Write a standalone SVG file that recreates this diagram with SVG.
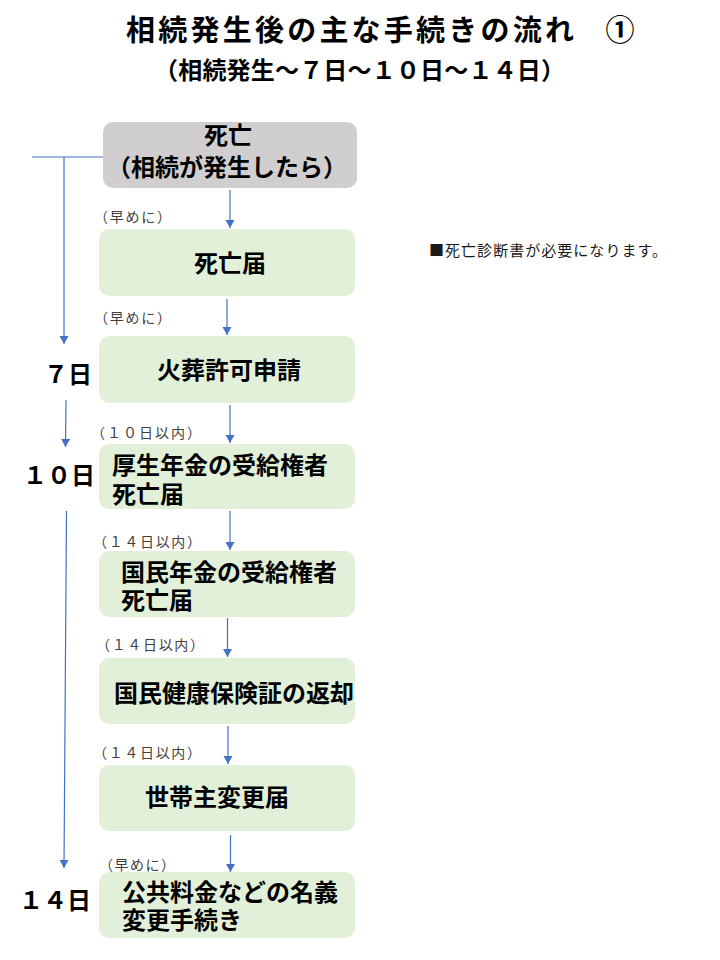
<svg xmlns="http://www.w3.org/2000/svg" width="720" height="960" viewBox="0 0 720 960">
<defs>
<style>
text{font-family:"Noto Sans CJK JP","Noto Sans CJK SC",sans-serif;fill:#000}
.t{font-weight:bold;font-size:29px}
.st{font-weight:bold;font-size:24px}
.b{font-weight:bold;font-size:24px}
.d{font-weight:bold;font-size:24px}
.s{font-size:14px;fill:#404040}
.n{font-size:15px;fill:#1a1a1a}
.gray{fill:#d0cece}
.green{fill:#e2f0d9}
.c{stroke:#4472c4;stroke-width:1.2;fill:none}
</style>
<marker id="ah" markerUnits="userSpaceOnUse" markerWidth="10" markerHeight="10" refX="8" refY="4.5" orient="auto">
<path d="M0,0 L8,4.5 L0,9 Z" fill="#4472c4"/>
</marker>
</defs>
<rect width="720" height="960" fill="#fff"/>
<g id="title">
<text class="t" x="126" y="41" textLength="448" lengthAdjust="spacing">相続発生後の主な手続きの流れ</text>
<text class="t" x="620" y="41" text-anchor="middle">①</text>
<text class="st" x="154" y="79" textLength="411" lengthAdjust="spacing">（相続発生～７日～１０日～１４日）</text>
</g>
<g id="connectors">
<line class="c" x1="230" y1="190" x2="230" y2="228" marker-end="url(#ah)"/>
<line class="c" x1="227" y1="299" x2="227" y2="335" marker-end="url(#ah)"/>
<line class="c" x1="230" y1="405" x2="230" y2="443" marker-end="url(#ah)"/>
<line class="c" x1="230" y1="511" x2="230" y2="550" marker-end="url(#ah)"/>
<line class="c" x1="227.5" y1="618" x2="227.5" y2="657" marker-end="url(#ah)"/>
<line class="c" x1="228" y1="726" x2="228" y2="764" marker-end="url(#ah)"/>
<line class="c" x1="230.5" y1="835" x2="230.5" y2="872" marker-end="url(#ah)"/>
<polyline class="c" points="103,157 32,157"/>
<line class="c" x1="64" y1="157" x2="64" y2="344" marker-end="url(#ah)"/>
<line class="c" x1="66" y1="400" x2="65.5" y2="447" marker-end="url(#ah)"/>
<line class="c" x1="66.5" y1="511" x2="64" y2="868" marker-end="url(#ah)"/>
</g>
<g id="day-labels">
<text class="d" x="92" y="383" text-anchor="end">７日</text>
<text class="d" x="95" y="484" text-anchor="end">１０日</text>
<text class="d" x="91" y="909" text-anchor="end">１４日</text>
</g>
<g id="node-death">
<rect class="gray" x="103" y="122" width="254" height="66" rx="10"/>
<text class="b" text-anchor="middle"><tspan x="228" y="144">死亡</tspan><tspan x="227" y="176">（相続が発生したら）</tspan></text>
</g>
<g id="node-shibotodoke">
<text class="s" x="94" y="222" textLength="77" lengthAdjust="spacing">（早めに）</text>
<rect class="green" x="99" y="229" width="256" height="67" rx="10"/>
<text class="b" x="230" y="272" text-anchor="middle">死亡届</text>
</g>
<g id="note">
<text class="n" x="429" y="256" textLength="238" lengthAdjust="spacing">■死亡診断書が必要になります。</text>
</g>
<g id="node-kaso">
<text class="s" x="94" y="323" textLength="77" lengthAdjust="spacing">（早めに）</text>
<rect class="green" x="99" y="336" width="256" height="67" rx="10"/>
<text class="b" x="229" y="379" text-anchor="middle">火葬許可申請</text>
</g>
<g id="node-kosei">
<text class="s" x="91" y="438" textLength="110" lengthAdjust="spacing">（１０日以内）</text>
<rect class="green" x="99" y="444" width="256" height="65" rx="10"/>
<text class="b"><tspan x="112" y="474">厚生年金の受給権者</tspan><tspan x="112" y="503">死亡届</tspan></text>
</g>
<g id="node-kokumin">
<text class="s" x="93" y="547" textLength="108" lengthAdjust="spacing">（１４日以内）</text>
<rect class="green" x="99" y="551" width="256" height="66" rx="10"/>
<text class="b"><tspan x="121" y="581">国民年金の受給権者</tspan><tspan x="121" y="609">死亡届</tspan></text>
</g>
<g id="node-hoken">
<text class="s" x="96" y="650" textLength="108" lengthAdjust="spacing">（１４日以内）</text>
<rect class="green" x="99" y="658" width="256" height="66" rx="10"/>
<text class="b" x="114" y="702">国民健康保険証の返却</text>
</g>
<g id="node-setainushi">
<text class="s" x="93" y="758" textLength="108" lengthAdjust="spacing">（１４日以内）</text>
<rect class="green" x="99" y="765" width="256" height="66" rx="10"/>
<text class="b" x="217" y="806" text-anchor="middle">世帯主変更届</text>
</g>
<g id="node-meigi">
<text class="s" x="99" y="870" textLength="76" lengthAdjust="spacing">（早めに）</text>
<rect class="green" x="99" y="872" width="256" height="66" rx="10"/>
<text class="b"><tspan x="122" y="901">公共料金などの名義</tspan><tspan x="122" y="929">変更手続き</tspan></text>
</g>
</svg>
